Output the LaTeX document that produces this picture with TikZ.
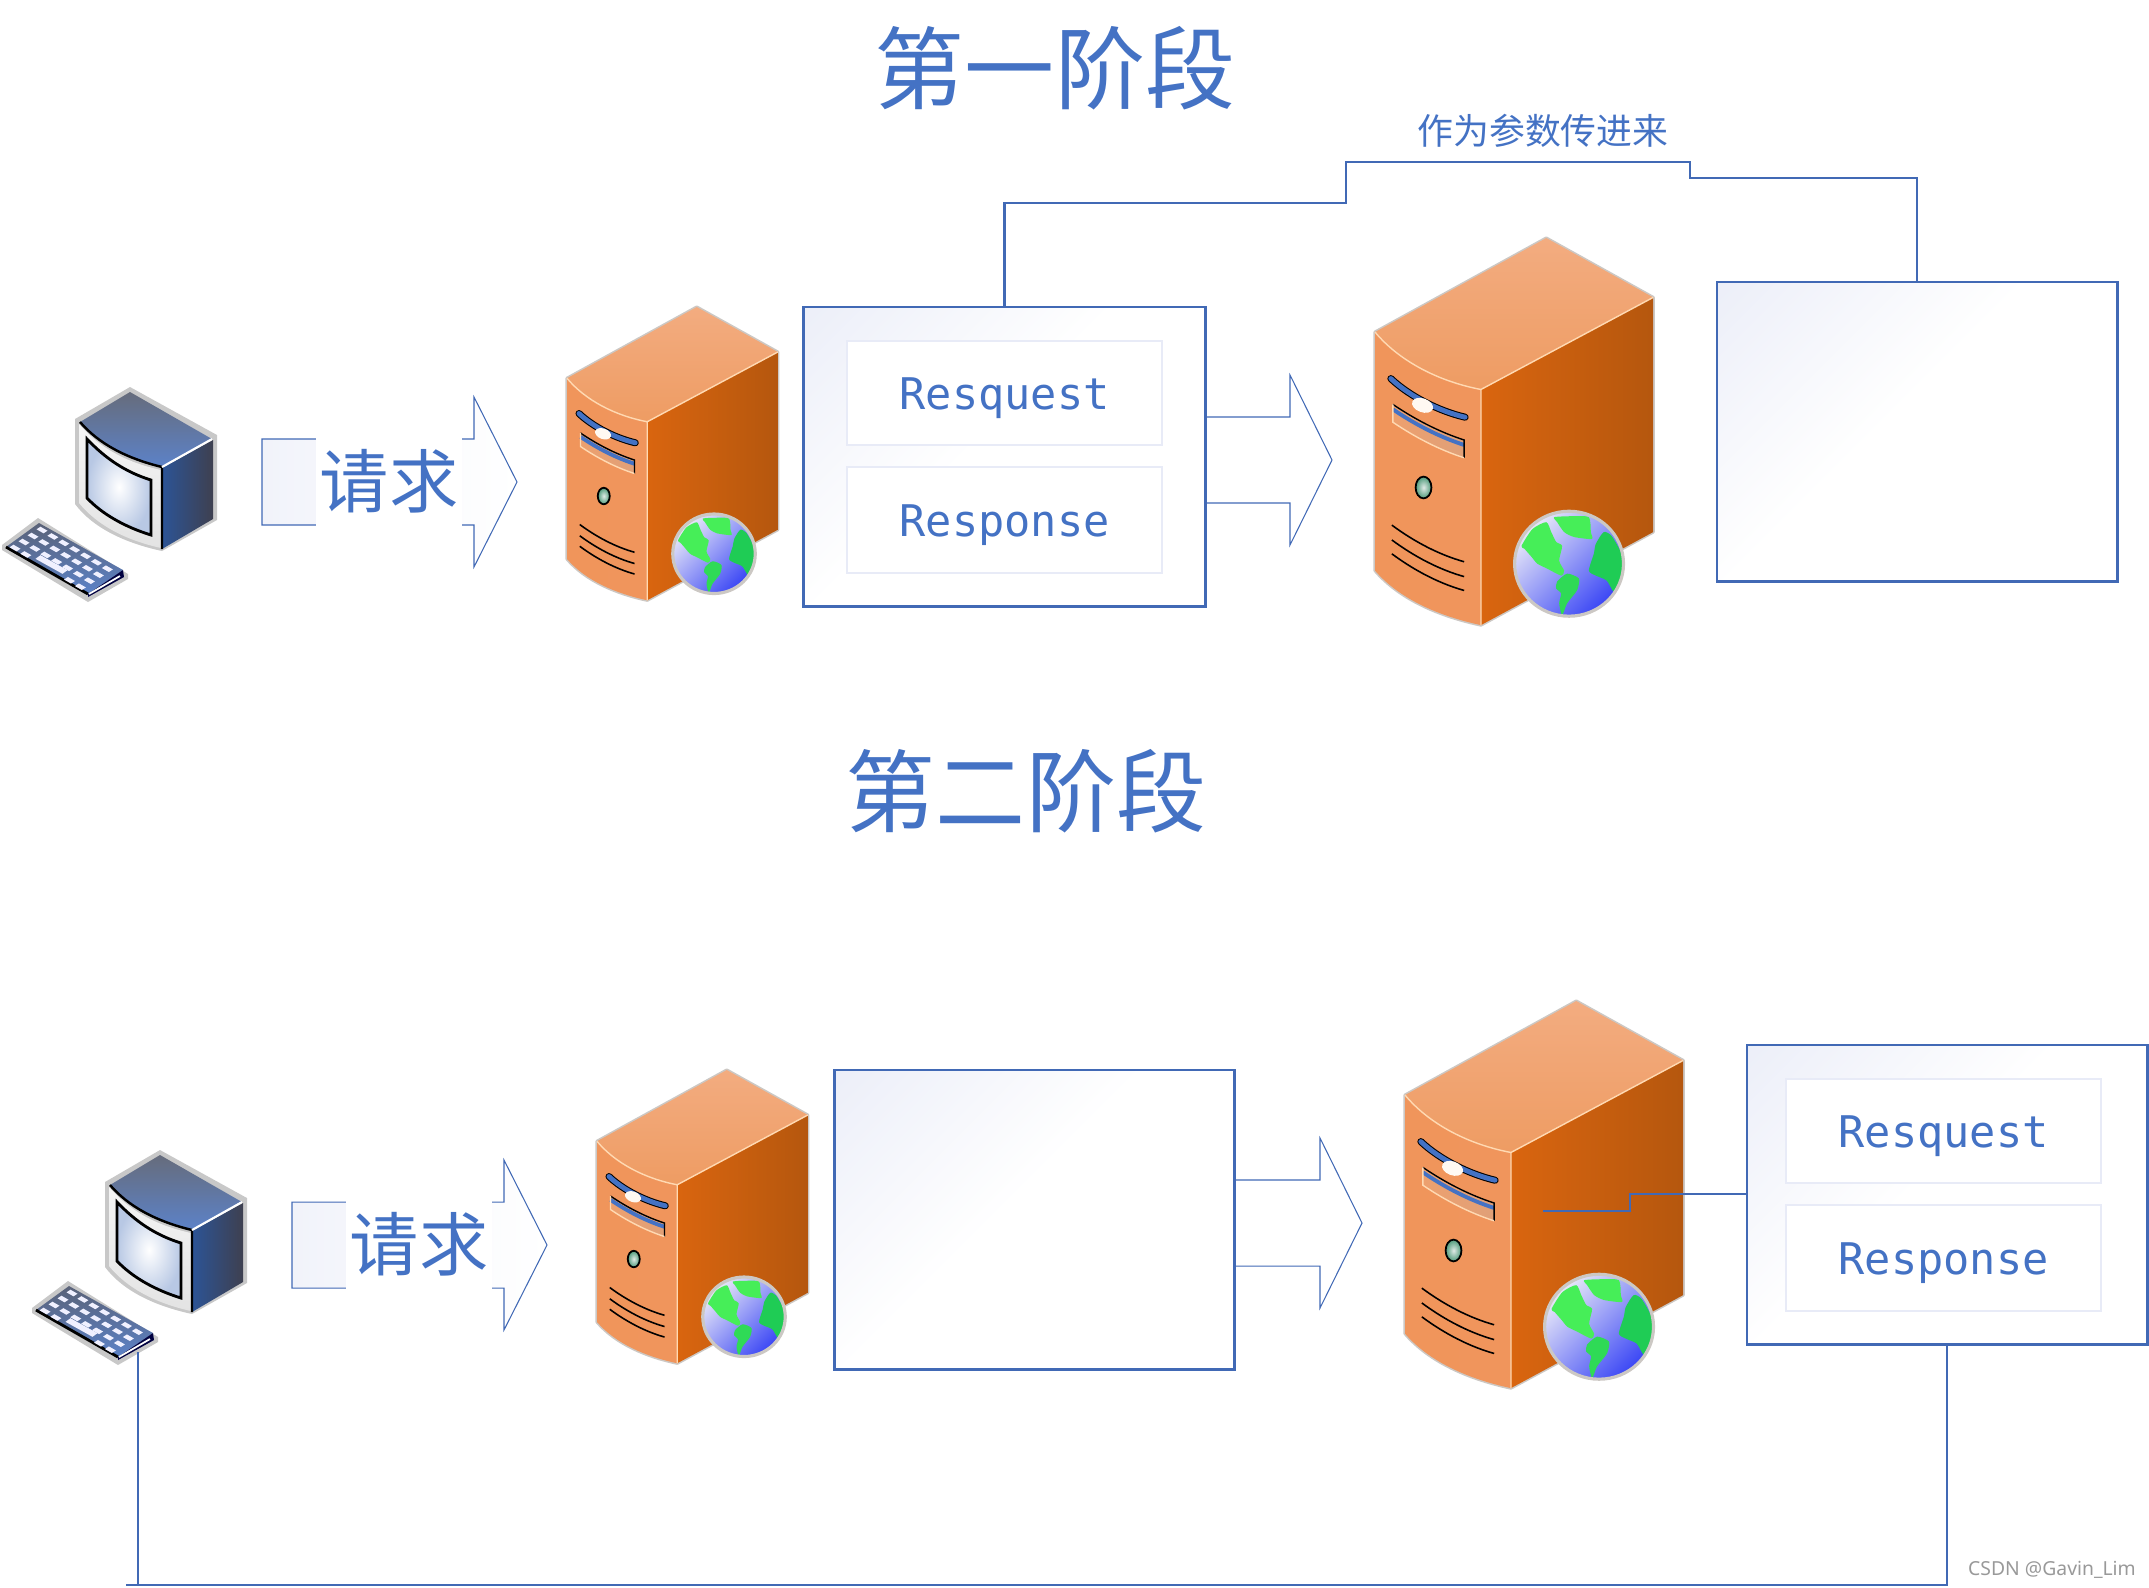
\documentclass[tikz,border=0pt]{standalone}
\usepackage{fontspec}
\usepackage{xcolor}
\usetikzlibrary{calc, positioning}
\setmainfont{Noto Sans}
\newfontfamily\cjkfont{Noto Sans CJK SC}
\newfontfamily\codefont{DejaVu Sans Mono}

\definecolor{linkblue}{HTML}{4169B5}
\definecolor{textblue}{HTML}{4472C4}
\definecolor{boxtint}{HTML}{E8EBF7}
\definecolor{edgegrey}{HTML}{CCC8C4}
\definecolor{caseedge}{HTML}{C8C8C8}
\definecolor{landlight}{HTML}{46EE58}
\definecolor{landdark}{HTML}{1FCC55}
\pgfdeclareverticalshading{boxfade}{100bp}{color(0bp)=(white); color(54bp)=(white); color(92bp)=(boxtint); color(100bp)=(boxtint)}

\tikzset{
    bluebox/.style={draw=linkblue, line width=0.8pt, shading=boxfade, shading angle=45, inner sep=0pt},
    innerbox/.style={draw=boxtint, line width=0.5pt, fill=white, inner sep=0pt, minimum width=3.15cm, text=textblue, font=\codefont\fontsize{12.4}{14}\selectfont},
    linkline/.style={draw=linkblue, line width=0.8pt},
    thinarrow/.style={draw=linkblue, line width=0.3pt, line join=miter},
    titletext/.style={text=textblue, inner sep=0pt, font=\cjkfont\fontsize{25.6}{28}\selectfont},
    asktext/.style={text=textblue, fill=white, inner sep=0pt, minimum width=1.45cm, minimum height=1.1cm, font=\cjkfont\fontsize{19.7}{22}\selectfont},
    % server tower with its globe
    server/.pic={
        \draw[edgegrey, line width=0.9pt, line join=round] (0,95) -- (173,0) -- (281,60) -- (281,297) -- (107,391) .. controls (65,382) and (25,365) .. (0,336) -- cycle;
        \shade[top color={rgb,255:red,243;green,172;blue,128}, bottom color={rgb,255:red,238;green,156;blue,99}] (0,95) -- (173,0) -- (281,60) -- (107,153) .. controls (65,145) and (25,125) .. (0,95) -- cycle;
        \shade[left color={rgb,255:red,240;green,149;blue,91}, middle color={rgb,255:red,238;green,138;blue,72}, right color={rgb,255:red,240;green,149;blue,92}] (0,95) .. controls (25,125) and (65,145) .. (107,153) -- (107,391) .. controls (65,382) and (25,365) .. (0,336) -- cycle;
        \shade[left color={rgb,255:red,217;green,101;blue,15}, middle color={rgb,255:red,205;green,95;blue,16}, right color={rgb,255:red,181;green,87;blue,14}] (107,153) -- (281,60) -- (281,297) -- (107,391) -- cycle;
        \draw[white!70!orange, line width=0.4pt] (0,95) .. controls (25,125) and (65,145) .. (107,153) -- (281,60) (107,153) -- (107,391);
        % bar and drive slot
        \shade[left color={rgb,255:red,237;green,160;blue,110}, middle color={rgb,255:red,128;green,82;blue,60}, right color={rgb,255:red,224;green,160;blue,120}] (18,168) .. controls (40,183) and (65,196) .. (90,204) -- (90,222) .. controls (65,214) and (40,201) .. (18,186) -- cycle;
        \draw[textblue, line width=1.1pt] (18,173) .. controls (40,188) and (65,201) .. (90,209);
        \draw[black, line width=0.4pt] (18,168) .. controls (40,183) and (65,196) .. (90,204) -- (90,222);
        \draw[white!70!orange, line width=0.4pt] (18,168) -- (18,186) .. controls (40,201) and (65,214) .. (90,222);
        \draw[black, line width=2pt, line cap=round] (16,142) .. controls (35,160) and (65,175) .. (91,181);
        \draw[textblue, line width=1.4pt, line cap=round] (16,142) .. controls (35,160) and (65,175) .. (91,181);
        \fill[white!95!orange, rotate around={-20:(48,169)}] (48,169) ellipse [x radius=11, y radius=7];
        % lamp and vents
        \shade[draw=black, line width=0.5pt, inner color={rgb,255:red,224;green,234;blue,230}, outer color={rgb,255:red,78;green,154;blue,122}] (49,252) ellipse [x radius=8, y radius=11];
        \foreach \ventY in {290,305,319}
            \draw[black, line width=0.45pt] (17,\ventY) .. controls (40,{\ventY+17}) and (65,{\ventY+30}) .. (90,{\ventY+37});
        % globe
        \begin{scope}[shift={(2,2)}]
            \shade[top color={rgb,255:red,232;green,232;blue,248}, middle color={rgb,255:red,170;green,172;blue,240}, bottom color={rgb,255:red,58;green,70;blue,245}, shading angle=45] (194,327) ellipse [x radius=55, y radius=53];
            \begin{scope}
                \clip (194,327) ellipse [x radius=55, y radius=53];
                \fill[landlight] plot[smooth cycle, tension=0.4] coordinates {(146,309) (157,292) (171,285) (176,295) (181,305) (187,309) (184,324) (189,334) (186,339) (172,332) (162,327) (156,320) (149,312)};
                \fill[landlight] plot[smooth cycle, tension=0.4] coordinates {(179,280) (197,279) (214,280) (216,295) (217,302) (199,300) (189,295) (182,285)};
                \fill[landdark] plot[smooth cycle, tension=0.4] coordinates {(229,295) (237,299) (247,317) (249,334) (241,357) (232,344) (221,339) (214,334) (219,317) (221,307)};
                \fill[landdark!60!landlight] plot[smooth cycle, tension=0.4] coordinates {(182,345) (192,337) (204,342) (202,354) (192,367) (187,379) (184,367) (186,357) (181,352)};
            \end{scope}
            \draw[edgegrey, line width=0.9pt] (194,327) ellipse [x radius=55, y radius=53];
        \end{scope}
    },
    % monitor and keyboard
    desktop/.pic={
        \fill[caseedge] (130,7) -- (217,55) -- (217,140) -- (162,171) .. controls (125,163) and (93,148) .. (75,124) -- (75,39) -- cycle;
        \shade[top color={rgb,255:red,102;green,108;blue,124}, bottom color={rgb,255:red,92;green,130;blue,200}] (130,12) -- (212,59) -- (162,87) .. controls (125,78) and (98,63) .. (80,42) -- cycle;
        \shade[left color={rgb,255:red,44;green,84;blue,150}, right color={rgb,255:red,62;green,64;blue,80}] (162,88) -- (213,60) -- (213,139) -- (162,169) -- cycle;
        \shade[top color=white!92!gray, bottom color=white!78!gray] (79,44) .. controls (100,68) and (125,82) .. (161,90) -- (161,168) .. controls (125,160) and (97,145) .. (79,123) -- cycle;
        \shade[draw=black, line width=0.8pt, inner color=white, outer color={rgb,255:red,184;green,200;blue,228}] (87,59) .. controls (105,78) and (125,92) .. (151,100) -- (151,155) .. controls (125,147) and (102,134) .. (87,118) -- cycle;
        \draw[black, line width=0.7pt] (80,42) .. controls (98,63) and (125,78) .. (162,87) -- (162,169);
        \draw[white, line width=0.6pt] (162,87) -- (212,59);
        % keyboard
        \fill[caseedge] (38,138) -- (128,194) -- (128,199) -- (88,222) -- (2,170) -- (2,165) -- cycle;
        \shade[top color={rgb,255:red,90;green,98;blue,120}, bottom color={rgb,255:red,92;green,130;blue,200}] (39,143) -- (123,190) -- (88,214) -- (6,167) -- cycle;
        \draw[black, line width=0.8pt] (6,167) -- (88,214);
        \fill[black!75!blue] (123,190) -- (88,214) -- (88,217) -- (124,197) -- cycle;
        \draw[white, line width=0.5pt] (89,214) -- (120,196);
        \foreach \rowJ/\keyList in {0/{0,...,6}, 1/{0,...,6}, 2/{0,...,6}, 3/{0,1,5,6}}
            \foreach \keyI in \keyList {
                \pgfmathsetmacro\keyX{42+\keyI*10.9-\rowJ*9}
                \pgfmathsetmacro\keyY{150+\keyI*6.45+\rowJ*6}
                \fill[white!94!blue, shift={(\keyX,\keyY)}] (1.5,3.3) -- (5.5,.7) -- (-1.5,-3.3) -- (-5.5,-.7) -- cycle;
            }
        \fill[white!94!blue] (35.5,178.8) -- (62.5,193.8) -- (67.5,190.2) -- (40.5,175.2) -- cycle;
    }
}

\begin{document}
\begin{tikzpicture}[x=0.01cm, y=-0.01cm]
    \useasboundingbox (0,0) rectangle (2149,1587);

    % 1. Titles
    \node[titletext] (stageone) at (1055,68) {第一阶段};
    \node[titletext] (stagetwo) at (1026,791) {第二阶段};

    % 2. Computers and servers of the first stage
    \pic at (0,380) {desktop};
    \pic[scale=.75] at (567,307) {server};
    \pic[scale=.99] at (1375,238) {server};

    % 3. Computers and servers of the second stage
    \pic at (30,1143) {desktop};
    \pic[scale=.75] at (597,1070) {server};
    \pic[scale=.99] at (1405,1001) {server};

    % 4. Request arrows, the label covers their middle
    \draw[thinarrow, left color=boxtint!60, middle color=white, right color=white] (262,439) -- (474,439) -- (474,397) -- (517,482) -- (474,567) -- (474,525) -- (262,525) -- cycle;
    \node[asktext] (askone) at (389,481) {请求};
    \draw[thinarrow, left color=boxtint!60, middle color=white, right color=white] (292,1202) -- (504,1202) -- (504,1160) -- (547,1245) -- (504,1330) -- (504,1288) -- (292,1288) -- cycle;
    \node[asktext] (asktwo) at (419,1244) {请求};

    % 5. First stage boxes
    \node[bluebox, minimum width=4.01cm, minimum height=2.99cm] (reqbox1) at (1004.5,456.5) {};
    \node[innerbox, minimum height=1.04cm, text depth=0pt] (reqtext1) at (1004.5,393) {\raisebox{-0.4pt}{Resquest}};
    \node[innerbox, minimum height=1.06cm, text depth=0pt] (resptext1) at (1004.5,520) {\raisebox{-0.4pt}{Response}};
    \node[bluebox, minimum width=4.00cm, minimum height=2.99cm] (emptybox1) at (1917,431.5) {};
    \draw[linkline] (reqbox1.north) |- (1346,203) |- (1690,162) |- (emptybox1.north |- 0,178) -- (emptybox1.north);
    \node[text=textblue, inner sep=0pt, font=\cjkfont\fontsize{10.2}{12}\selectfont] (paramtext) at (1543,131) {作为参数传进来};

    % 6. First stage send arrow
    \draw[thinarrow] (reqbox1.east |- 0,417) -- (1290,417) -- (1290,375) -- (1332,460) -- (1290,545) -- (1290,503) -- (reqbox1.east |- 0,503);

    % 7. Second stage boxes
    \node[bluebox, minimum width=3.99cm, minimum height=2.99cm] (emptybox2) at (1034.5,1219.5) {};
    \node[bluebox, minimum width=4.00cm, minimum height=2.99cm] (reqbox2) at (1947,1194.5) {};
    \node[innerbox, minimum height=1.04cm, text depth=0pt] (reqtext2) at (1943.5,1131) {\raisebox{-0.4pt}{Resquest}};
    \node[innerbox, minimum height=1.06cm, text depth=0pt] (resptext2) at (1943.5,1258) {\raisebox{-0.4pt}{Response}};

    % 8. Second stage send arrow
    \draw[thinarrow] (emptybox2.east |- 0,1180) -- (1320,1180) -- (1320,1138) -- (1362,1223) -- (1320,1308) -- (1320,1266) -- (emptybox2.east |- 0,1266);

    % 9. Links of the second stage
    \coordinate (plugsrv) at (1543,1211);
    \coordinate (keypad) at (138,1352);
    \coordinate (backend) at (126,1585);
    \draw[linkline] (plugsrv) -| (1630,1194) -- (reqbox2.west |- 0,1194);
    \draw[linkline] (reqbox2.south) |- (backend);
    \draw[linkline] (keypad) -- (keypad |- backend);

    % 10. Watermark
    \node[text=black!40, inner sep=0pt, font=\fontsize{5.5}{7}\selectfont] (mark) at (2052,1570) {CSDN @Gavin\_Lim};
\end{tikzpicture}
\end{document}
